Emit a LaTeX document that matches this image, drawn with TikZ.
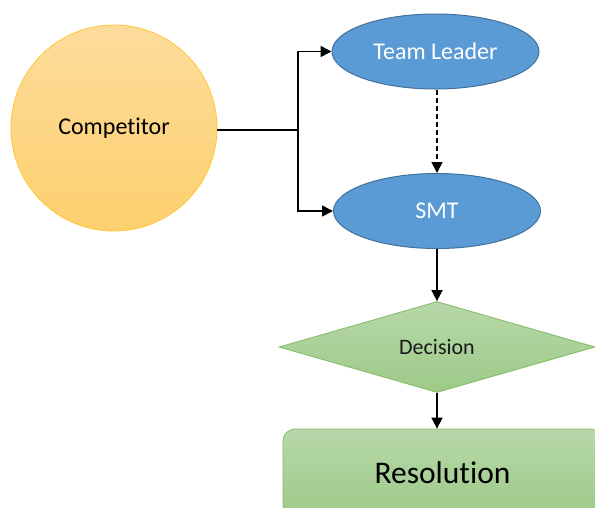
\documentclass[tikz,border=0pt]{standalone}
\usepackage{fontspec}
\setmainfont{Carlito}[Ligatures={NoCommon,NoContextual,NoRare}]
\usetikzlibrary{shapes.geometric,arrows.meta}
\definecolor{circtop}{HTML}{FDDC9C}
\definecolor{circbot}{HTML}{FDD06E}
\definecolor{circline}{HTML}{FFC533}
\definecolor{bluefill}{HTML}{5B9BD5}
\definecolor{blueline}{HTML}{41719C}
\definecolor{grtop}{HTML}{B7D8A9}
\definecolor{grbot}{HTML}{9DCA88}
\definecolor{grline}{HTML}{82BA64}
\tikzset{
  compnode/.style={circle, draw=circline, line width=0.8pt, top color=circtop, bottom color=circbot, minimum size=206pt, inner sep=0pt, font=\fontsize{24}{28}\selectfont, text=black},
  bluenode/.style={ellipse, draw=blueline, line width=1pt, fill=bluefill, minimum width=207pt, minimum height=75pt, inner sep=0pt, font=\fontsize{24}{28}\selectfont, text=white},
  decnode/.style={diamond, draw=grline, line width=0.8pt, top color=grtop, bottom color=grbot, minimum width=316pt, minimum height=85pt, inner sep=0pt, font=\fontsize{22}{26}\selectfont, text=black!90},
  resnode/.style={rectangle, rounded corners=12pt, draw=grline, line width=0.8pt, top color=grtop, bottom color=grbot, minimum width=319pt, minimum height=88pt, inner sep=0pt, font=\fontsize{31.5}{36}\selectfont, text=black},
  conn/.style={line width=1.6pt, black},
  arr/.style={conn, -{Triangle[length=11pt,width=11pt]}},
}
\begin{document}
\begin{tikzpicture}[x=1pt,y=-1pt]
\clip (0,0) rectangle (595,507);
\node[compnode] (comp) at (114,128) {\raisebox{-2pt}{Competitor}};
\node[bluenode] (tl) at (435.5,51.5) {Team Leader};
\node[bluenode] (smt) at (437,211) {SMT};
\node[decnode] (dec) at (437,347) {Decision};
\node[resnode] (res) at (442.5,473) {Resolution};
\coordinate (j) at (298,130);
\draw[conn] (comp.east |- j) -- (j);
\draw[arr] (j) |- (tl.west);
\draw[arr] (j) |- (smt.west);
\draw[arr, dashed, dash pattern=on 5pt off 3pt] (tl.south -| smt.north) -- (smt.north);
\draw[arr] (smt.south -| dec.north) -- (dec.north);
\draw[arr] (dec.south) -- (dec.south |- res.north);
\end{tikzpicture}
\end{document}
